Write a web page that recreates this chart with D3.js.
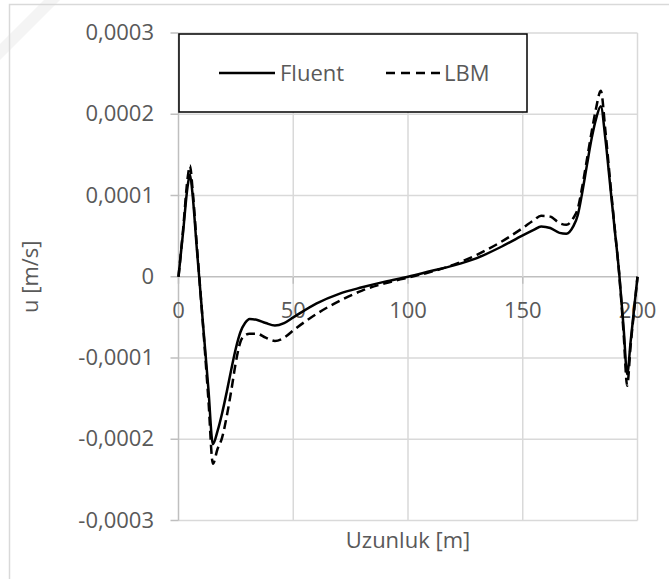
<!DOCTYPE html>
<html>
<head>
<meta charset="utf-8">
<script src="https://cdn.jsdelivr.net/npm/d3@7"></script>
<style>
  body { margin: 0; background: #fff; }
  text { font-family: "Open Sans", sans-serif; fill: #595959; }
</style>
</head>
<body>
<script>
// chart values
var xValues = [0, 2, 4, 5, 6, 8, 9, 11, 13, 15, 17, 19, 21, 23, 25, 27, 29, 31, 34, 38, 42, 46, 50,
  60, 70, 80, 90, 100, 110, 120, 130, 140, 150, 155, 158, 162, 166, 169, 172, 174, 176, 178, 180,
  182, 184, 186, 188, 190, 192, 194, 195.5, 197, 198.5, 200];

var fluentValues = [0, 0.55e-4, 1.12e-4, 1.26e-4, 1.05e-4, 0.34e-4, 0, -0.69e-4, -1.37e-4, -2.06e-4,
  -1.90e-4, -1.68e-4, -1.42e-4, -1.14e-4, -0.88e-4, -0.68e-4, -0.57e-4, -0.52e-4, -0.53e-4, -0.57e-4,
  -0.60e-4, -0.57e-4, -0.50e-4, -0.33e-4, -0.21e-4, -0.13e-4, -0.06e-4, 0, 0.07e-4, 0.14e-4, 0.23e-4,
  0.36e-4, 0.51e-4, 0.58e-4, 0.62e-4, 0.60e-4, 0.54e-4, 0.53e-4, 0.62e-4, 0.76e-4, 1.05e-4, 1.38e-4,
  1.70e-4, 1.95e-4, 2.10e-4, 1.70e-4, 1.15e-4, 0.60e-4, 0.05e-4, -0.65e-4, -1.20e-4, -0.80e-4,
  -0.40e-4, 0];

var lbmValues = [0, 0.58e-4, 1.22e-4, 1.37e-4, 1.12e-4, 0.38e-4, 0.02e-4, -0.72e-4, -1.50e-4, -2.30e-4,
  -2.12e-4, -1.98e-4, -1.72e-4, -1.40e-4, -1.05e-4, -0.80e-4, -0.72e-4, -0.70e-4, -0.70e-4, -0.75e-4,
  -0.79e-4, -0.75e-4, -0.66e-4, -0.46e-4, -0.30e-4, -0.17e-4, -0.08e-4, -0.01e-4, 0.06e-4, 0.15e-4,
  0.27e-4, 0.42e-4, 0.60e-4, 0.70e-4, 0.75e-4, 0.74e-4, 0.66e-4, 0.64e-4, 0.72e-4, 0.84e-4, 1.12e-4,
  1.45e-4, 1.78e-4, 2.08e-4, 2.29e-4, 1.80e-4, 1.20e-4, 0.62e-4, 0.04e-4, -0.72e-4, -1.34e-4, -0.85e-4,
  -0.42e-4, 0];

var seriesNames = ["Fluent", "LBM"];
var xTicks = [0, 50, 100, 150, 200];
var yTicks = [0.0003, 0.0002, 0.0001, 0, -0.0001, -0.0002, -0.0003];
var yTickLabels = ["0,0003", "0,0002", "0,0001", "0", "-0,0001", "-0,0002", "-0,0003"];

(function(){
  var width = 669, height = 579;

  var svg = d3.select("body").append("svg")
    .attr("width", width)
    .attr("height", height);

  // faint watermark bands and chart frame
  svg.append("path")
    .attr("d", "M0,44 L44,0 L60,0 L0,60 Z")
    .attr("fill", "#f4f4f4");
  svg.append("rect")
    .attr("x", 9.5).attr("y", 4.5)
    .attr("width", 700).attr("height", 620)
    .attr("fill", "none")
    .attr("stroke", "#d9d9d9")
    .attr("stroke-width", 1.5);

  var x = d3.scaleLinear().domain([0, 200]).range([178.5, 637.5]);
  var y = d3.scaleLinear().domain([-0.0003, 0.0003]).range([520.5, 33]);

  // gridlines
  svg.append("g").selectAll("line").data(yTicks).join("line")
    .attr("x1", x(0)).attr("x2", x(200))
    .attr("y1", d => y(d)).attr("y2", d => y(d))
    .attr("stroke", d => d === 0 ? "#bfbfbf" : "#d9d9d9")
    .attr("stroke-width", 1.5);
  svg.append("g").selectAll("line").data(xTicks).join("line")
    .attr("x1", d => x(d)).attr("x2", d => x(d))
    .attr("y1", y(0.0003)).attr("y2", y(-0.0003))
    .attr("stroke", d => d === 0 ? "#bfbfbf" : "#d9d9d9")
    .attr("stroke-width", 1.5);

  // y tick marks + labels
  svg.append("g").selectAll("line").data(yTicks).join("line")
    .attr("x1", x(0) - 8).attr("x2", x(0))
    .attr("y1", d => y(d)).attr("y2", d => y(d))
    .attr("stroke", "#bfbfbf").attr("stroke-width", 1.5);
  svg.append("g").selectAll("text").data(yTicks).join("text")
    .attr("x", 154)
    .attr("y", d => y(d) + 7)
    .attr("text-anchor", "end")
    .style("font-size", "22px")
    .text((d, i) => yTickLabels[i]);

  // x tick marks + labels along the zero line
  svg.append("g").selectAll("line").data(xTicks).join("line")
    .attr("x1", d => x(d)).attr("x2", d => x(d))
    .attr("y1", y(0)).attr("y2", y(0) + 7)
    .attr("stroke", "#bfbfbf").attr("stroke-width", 1.5);
  svg.append("g").selectAll("text").data(xTicks).join("text")
    .attr("x", d => x(d))
    .attr("y", y(0) + 41)
    .attr("text-anchor", "middle")
    .style("font-size", "22px")
    .text(d => d);

  // axis titles
  svg.append("text")
    .attr("x", (x(0) + x(200)) / 2)
    .attr("y", 548)
    .attr("text-anchor", "middle")
    .style("font-size", "22px")
    .text("Uzunluk [m]");
  svg.append("text")
    .attr("transform", "translate(38," + y(0) + ") rotate(-90)")
    .attr("text-anchor", "middle")
    .style("font-size", "22px")
    .text("u [m/s]");

  // series
  var line = d3.line()
    .x(d => x(d[0]))
    .y(d => y(d[1]))
    .curve(d3.curveMonotoneX);

  var fluent = xValues.map((v, i) => [v, fluentValues[i]]);
  var lbm = xValues.map((v, i) => [v, lbmValues[i]]);

  svg.append("path")
    .attr("d", line(lbm))
    .attr("fill", "none")
    .attr("stroke", "#000")
    .attr("stroke-width", 2.5)
    .attr("stroke-dasharray", "9,5");
  svg.append("path")
    .attr("d", line(fluent))
    .attr("fill", "none")
    .attr("stroke", "#000")
    .attr("stroke-width", 2.5);

  // legend
  var legend = svg.append("g");
  legend.append("rect")
    .attr("x", 179).attr("y", 34)
    .attr("width", 348).attr("height", 78)
    .attr("fill", "#fff")
    .attr("stroke", "#000")
    .attr("stroke-width", 1.5);
  var items = [
    {x1: 219, x2: 275, tx: 280, dash: null},
    {x1: 386, x2: 440, tx: 444, dash: "9,6"}
  ];
  items.forEach((it, i) => {
    legend.append("line")
      .attr("x1", it.x1).attr("x2", it.x2)
      .attr("y1", 73).attr("y2", 73)
      .attr("stroke", "#000").attr("stroke-width", 2.5)
      .attr("stroke-dasharray", it.dash);
    legend.append("text")
      .attr("x", it.tx).attr("y", 81)
      .style("font-size", "22px")
      .text(seriesNames[i]);
  });
})();
</script>
</body>
</html>
